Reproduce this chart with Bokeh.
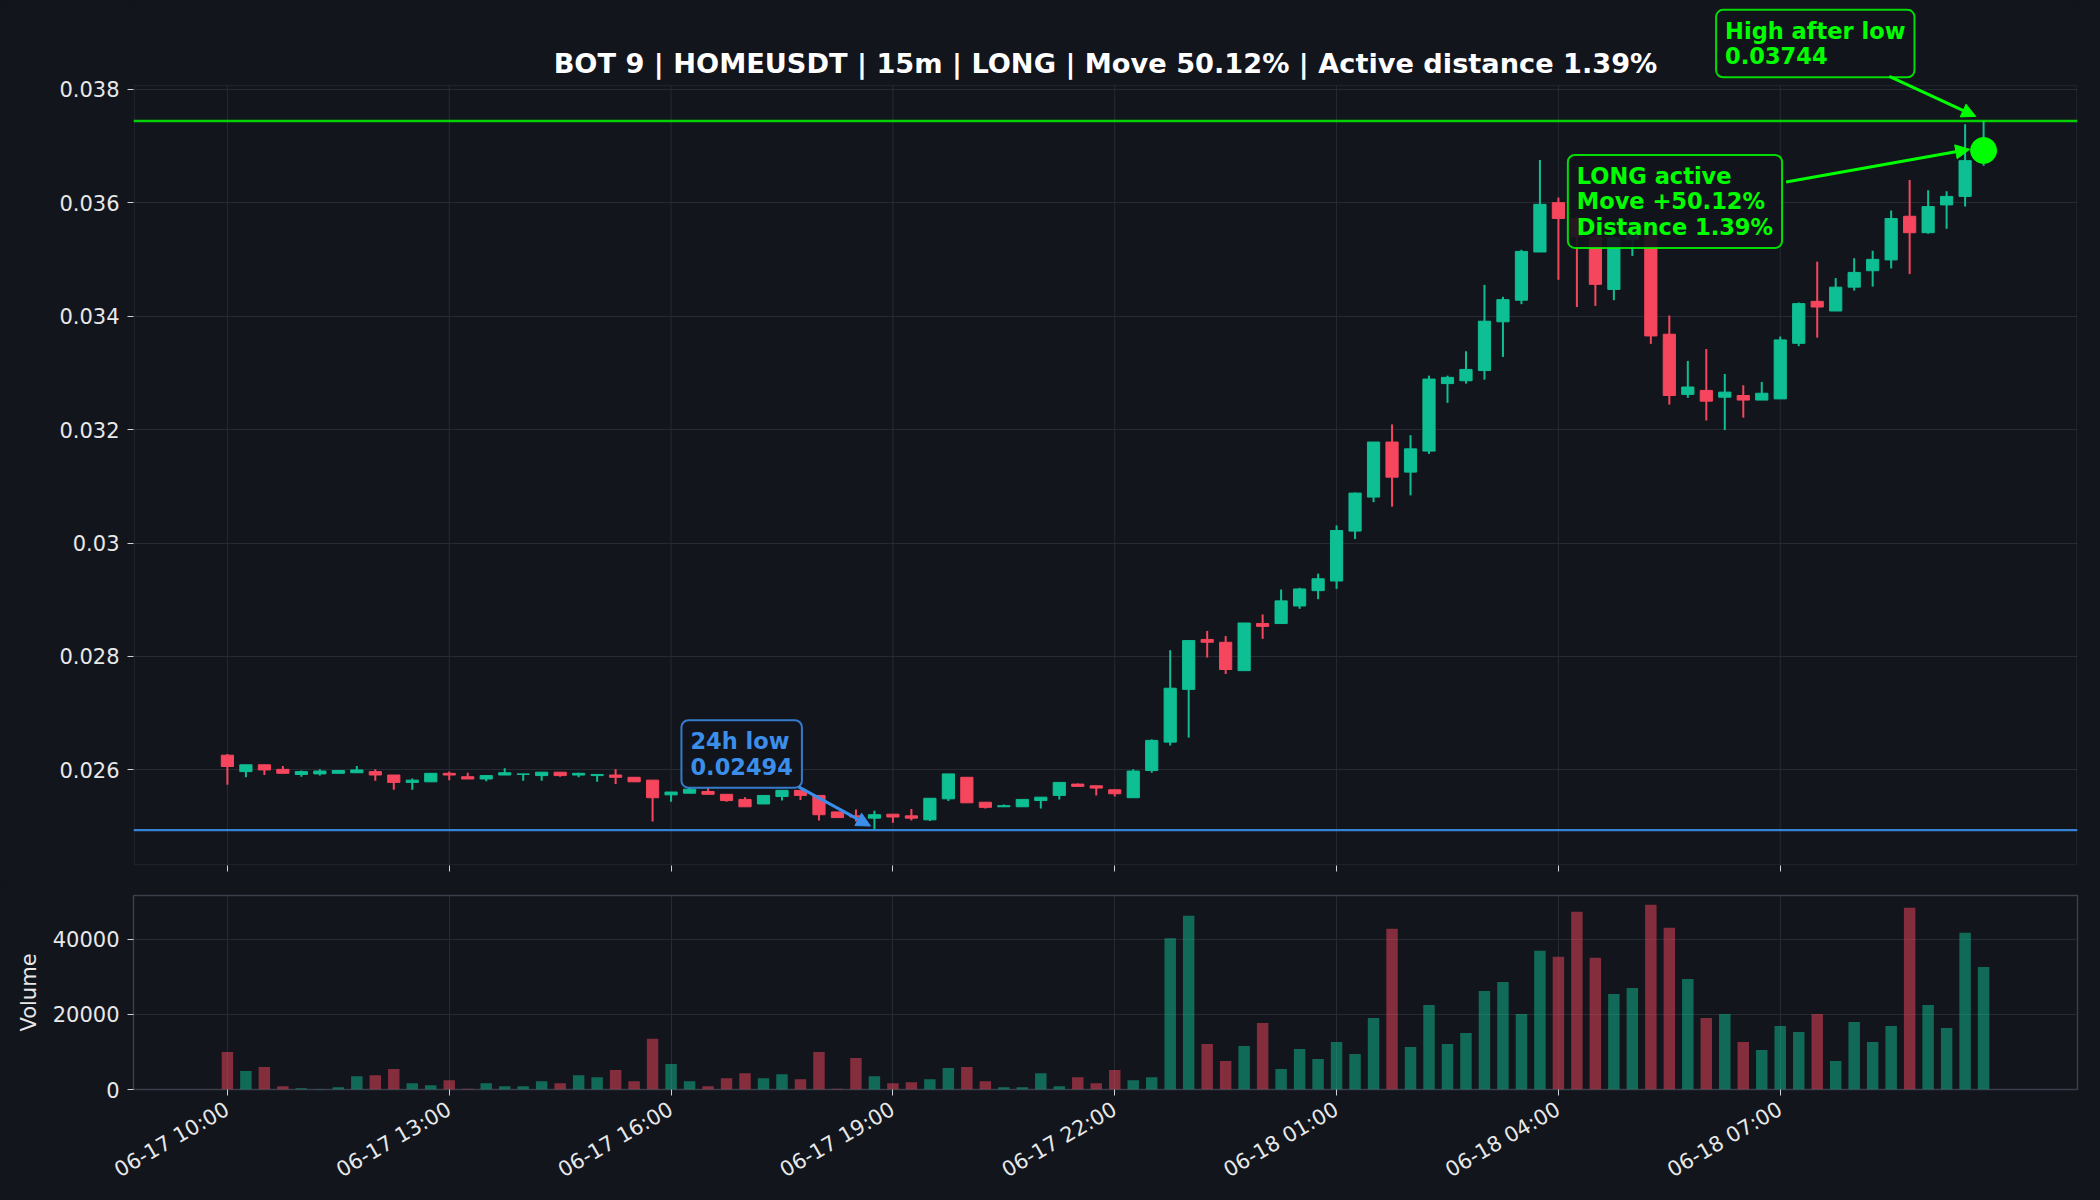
import numpy as np
import pandas as pd
from bokeh.plotting import figure
from bokeh.layouts import column
from bokeh.models import (Range1d, FixedTicker, DatetimeTickFormatter, CustomJSTickFormatter,
                          Span, Label, Arrow, NormalHead, ColumnDataSource, BoxAnnotation)
from bokeh.embed import file_html
from bokeh.resources import INLINE

# ---------------- data ----------------
start_time = "2025-06-17 10:00"
interval = "15min"

opens = [0.02626, 0.02597, 0.02609, 0.02601, 0.02592, 0.02593, 0.02594, 0.02595, 0.02597, 0.02591,
         0.02578, 0.02579, 0.02594, 0.02588, 0.02584, 0.02591, 0.02592, 0.02590, 0.02596, 0.02591,
         0.02590, 0.02591, 0.02587, 0.02582, 0.02556, 0.02559, 0.02562, 0.02557, 0.02548, 0.02540,
         0.02553, 0.02564, 0.02555, 0.02526, 0.02519, 0.02515, 0.02522, 0.02519, 0.02512, 0.02549,
         0.02587, 0.02543, 0.02535, 0.02535, 0.02546, 0.02555, 0.02575, 0.02572, 0.02565, 0.02551,
         0.02599, 0.02649, 0.02742, 0.02830, 0.02825, 0.02775, 0.02858, 0.02858, 0.02889, 0.02916,
         0.02933, 0.03021, 0.03081, 0.03178, 0.03125, 0.03162, 0.03281, 0.03286, 0.03304, 0.03390,
         0.03428, 0.03513, 0.03600, 0.03572, 0.03540, 0.03447, 0.03535, 0.03545, 0.03368, 0.03262,
         0.03269, 0.03257, 0.03260, 0.03252, 0.03254, 0.03352, 0.03426, 0.03409, 0.03451, 0.03480,
         0.03499, 0.03576, 0.03547, 0.03596, 0.03611, 0.03674]
highs = [0.02628, 0.02609, 0.02609, 0.02607, 0.02599, 0.02601, 0.02600, 0.02607, 0.02601, 0.02591,
         0.02585, 0.02594, 0.02597, 0.02595, 0.02591, 0.02603, 0.02593, 0.02596, 0.02596, 0.02595,
         0.02592, 0.02601, 0.02587, 0.02582, 0.02561, 0.02569, 0.02569, 0.02557, 0.02552, 0.02555,
         0.02564, 0.02564, 0.02555, 0.02526, 0.02530, 0.02528, 0.02522, 0.02531, 0.02550, 0.02593,
         0.02587, 0.02543, 0.02539, 0.02548, 0.02552, 0.02578, 0.02576, 0.02572, 0.02566, 0.02601,
         0.02654, 0.02811, 0.02829, 0.02845, 0.02836, 0.02859, 0.02874, 0.02918, 0.02921, 0.02946,
         0.03031, 0.03089, 0.03178, 0.03209, 0.03190, 0.03295, 0.03295, 0.03338, 0.03455, 0.03434,
         0.03517, 0.03675, 0.03609, 0.03575, 0.03545, 0.03540, 0.03562, 0.03550, 0.03401, 0.03321,
         0.03342, 0.03298, 0.03278, 0.03284, 0.03364, 0.03424, 0.03496, 0.03467, 0.03502, 0.03515,
         0.03586, 0.03640, 0.03622, 0.03620, 0.03738, 0.03744]
lows = [0.02574, 0.02587, 0.02591, 0.02594, 0.02588, 0.02590, 0.02594, 0.02595, 0.02581, 0.02565,
        0.02565, 0.02579, 0.02582, 0.02584, 0.02580, 0.02591, 0.02581, 0.02581, 0.02588, 0.02587,
        0.02579, 0.02575, 0.02579, 0.02509, 0.02544, 0.02559, 0.02557, 0.02544, 0.02535, 0.02540,
        0.02546, 0.02547, 0.02511, 0.02516, 0.02509, 0.02494, 0.02507, 0.02511, 0.02510, 0.02545,
        0.02542, 0.02532, 0.02535, 0.02535, 0.02532, 0.02548, 0.02571, 0.02555, 0.02553, 0.02551,
        0.02595, 0.02643, 0.02657, 0.02798, 0.02769, 0.02775, 0.02831, 0.02858, 0.02884, 0.02901,
        0.02919, 0.03007, 0.03072, 0.03064, 0.03084, 0.03157, 0.03247, 0.03281, 0.03288, 0.03328,
        0.03421, 0.03513, 0.03464, 0.03416, 0.03418, 0.03428, 0.03506, 0.03351, 0.03244, 0.03256,
        0.03216, 0.03199, 0.03221, 0.03252, 0.03254, 0.03347, 0.03362, 0.03409, 0.03445, 0.03452,
        0.03484, 0.03474, 0.03545, 0.03554, 0.03593, 0.03665]
closes = [0.02606, 0.02609, 0.02600, 0.02594, 0.02597, 0.02598, 0.02599, 0.02600, 0.02591, 0.02578,
          0.02582, 0.02594, 0.02591, 0.02584, 0.02590, 0.02595, 0.02593, 0.02596, 0.02590, 0.02594,
          0.02592, 0.02587, 0.02579, 0.02551, 0.02561, 0.02566, 0.02557, 0.02546, 0.02535, 0.02555,
          0.02564, 0.02555, 0.02521, 0.02516, 0.02517, 0.02521, 0.02517, 0.02515, 0.02550, 0.02593,
          0.02542, 0.02534, 0.02537, 0.02548, 0.02552, 0.02578, 0.02571, 0.02568, 0.02558, 0.02598,
          0.02652, 0.02744, 0.02828, 0.02825, 0.02777, 0.02859, 0.02853, 0.02898, 0.02919, 0.02937,
          0.03022, 0.03088, 0.03178, 0.03116, 0.03166, 0.03289, 0.03292, 0.03306, 0.03391, 0.03429,
          0.03514, 0.03597, 0.03572, 0.03540, 0.03456, 0.03538, 0.03555, 0.03365, 0.03260, 0.03275,
          0.03250, 0.03266, 0.03252, 0.03264, 0.03358, 0.03422, 0.03416, 0.03451, 0.03477, 0.03500,
          0.03572, 0.03547, 0.03593, 0.03611, 0.03674, 0.03692]
volumes = [9956, 4889, 5956, 889, 356, 150, 622, 3556, 3822, 5422,
           1689, 1156, 2489, 200, 1689, 889, 889, 2222, 1689, 3822,
           3289, 5156, 2222, 13511, 6756, 2222, 889, 3022, 4356, 3022,
           4089, 2756, 9956, 200, 8356, 3556, 1689, 1956, 2756, 5689,
           5956, 2222, 622, 622, 4356, 889, 3289, 1689, 5156, 2489,
           3289, 40267, 46222, 12089, 7556, 11556, 17689, 5422, 10756, 8089,
           12622, 9422, 19022, 42756, 11289, 22489, 12089, 15022, 26222, 28622,
           20089, 36889, 35289, 47289, 35022, 25422, 27022, 49156, 43022, 29422,
           19022, 20089, 12622, 10489, 16889, 15289, 20089, 7556, 17956, 12622,
           16889, 48356, 22489, 16356, 41689, 32622]

x_tick_times = ["2025-06-17 10:00", "2025-06-17 13:00", "2025-06-17 16:00", "2025-06-17 19:00",
                "2025-06-17 22:00", "2025-06-18 01:00", "2025-06-18 04:00", "2025-06-18 07:00"]
price_ticks = [0.026, 0.028, 0.030, 0.032, 0.034, 0.036, 0.038]
volume_ticks = [0, 20000, 40000]

title_text = "BOT 9 | HOMEUSDT | 15m | LONG | Move 50.12% | Active distance 1.39%"
low_value = 0.02494
high_value = 0.03744
move_pct = 50.12
dist_pct = 1.39

# ---------------- styling ----------------
BG = "#12151c"
GRID = "#2a2f39"
FRAME = "#3a3f4a"
TXT = "#e8e8e8"
UP = "#0fbf94"
DOWN = "#f6465d"
LIME = "#00ff00"
BLUE = "#3b8eea"
FONT = "DejaVu Sans"

o = np.array(opens); h = np.array(highs); l = np.array(lows); c = np.array(closes)
v = np.array(volumes, dtype=float)
times = pd.date_range(start_time, periods=len(o), freq=interval)
t_ms = (times.astype("int64") // 10**6).to_numpy().astype(float)
step = 15 * 60 * 1000.0
t0 = t_ms[0]


def n2ms(n):
    return t0 + n * step


colors = [UP if cc >= oo else DOWN for oo, cc in zip(o, c)]
src = ColumnDataSource(dict(t=t_ms, top=np.maximum(o, c), bottom=np.minimum(o, c),
                            high=h, low=l, color=colors, vol=v))

span_lo = min(l.min(), low_value)
span_hi = max(h.max(), high_value)
pad = 0.05 * (span_hi - span_lo)
y_lo, y_hi = span_lo - pad, span_hi + pad          # visible price frame
n_lo, n_hi = -5.08, len(o) - 1 + 5.08
x_range = Range1d(n2ms(n_lo), n2ms(n_hi))
xt = [pd.Timestamp(s).value // 10**6 for s in x_tick_times]

W = 2100
LEFT, RIGHT = 133, 23
FRAME_W = W - LEFT - RIGHT
TOP_SPACE = 85          # px above the price frame (title, high label)
FRAME_H = 780
px_per_price = FRAME_H / (y_hi - y_lo)
px_per_step = FRAME_W / (n_hi - n_lo)
y_top = y_hi + TOP_SPACE / px_per_price


def style(p):
    p.background_fill_color = BG
    p.border_fill_color = BG
    p.styles = {"background-color": BG}
    p.grid.grid_line_color = GRID
    p.grid.grid_line_alpha = 0.8
    p.grid.grid_line_width = 1
    p.axis.axis_line_color = None
    p.axis.major_tick_line_color = "#cfd3da"
    p.axis.major_tick_out = 6
    p.axis.major_tick_in = 0
    p.axis.minor_tick_line_color = None
    p.axis.major_label_text_color = TXT
    p.axis.major_label_text_font = FONT
    p.axis.major_label_text_font_size = "21px"
    p.axis.major_label_standoff = 8
    p.xaxis.ticker = FixedTicker(ticks=xt)
    p.xgrid.ticker = FixedTicker(ticks=xt)


# ---------------- price panel ----------------
p1 = figure(width=W, height=TOP_SPACE + FRAME_H + 15, x_axis_type="datetime", x_range=x_range,
            y_range=Range1d(y_lo, y_top),
            output_backend="svg", toolbar_location=None,
            min_border_left=LEFT, min_border_right=RIGHT, min_border_top=0, min_border_bottom=15)
style(p1)
p1.title.visible = False
p1.outline_line_color = None
p1.xaxis.formatter = CustomJSTickFormatter(code="return '';")
p1.xaxis.major_label_standoff = 0
p1.xgrid.visible = False
p1.yaxis.ticker = FixedTicker(ticks=price_ticks)
p1.yaxis.formatter = CustomJSTickFormatter(code="return tick.toFixed(3).replace(/0+$/, '');")

# vertical grid lines only inside the visible price frame
p1.segment(x0=xt, y0=[y_lo] * len(xt), x1=xt, y1=[y_hi] * len(xt),
           line_color=GRID, line_alpha=0.8, line_width=1)

# frame border
ix = 0.75 / px_per_step * step
iy = 0.75 / px_per_price
p1.add_layout(BoxAnnotation(left=n2ms(n_lo) + ix, right=n2ms(n_hi) - ix, bottom=y_lo + iy, top=y_hi,
                            fill_alpha=0, line_color=FRAME, line_width=1.5, level="underlay"))

# title
p1.add_layout(Label(x=n2ms((n_lo + n_hi) / 2), y=y_hi + 22 / px_per_price, text=title_text,
                    text_align="center", text_baseline="middle", text_font=FONT,
                    text_font_size="27.2px", text_font_style="bold", text_color="#ffffff"))

p1.segment(x0="t", y0="high", x1="t", y1="low", line_color="color", line_width=2, source=src)
p1.vbar(x="t", width=0.66 * step, top="top", bottom="bottom", fill_color="color",
        line_color="color", line_width=1, source=src)

p1.add_layout(Span(location=high_value, dimension="width", line_color=LIME, line_alpha=0.8, line_width=2.5))
p1.add_layout(Span(location=low_value, dimension="width", line_color=BLUE, line_alpha=0.9, line_width=2.2))

low_idx = int(np.argmin(l))
high_idx = low_idx + int(np.argmax(h[low_idx:]))
last_idx = len(o) - 1

p1.scatter(x=[t_ms[last_idx]], y=[c[last_idx]], size=26, fill_color=LIME, line_color=LIME)


def box_label(x, y, text, color):
    return Label(x=x, y=y, text=text, anchor="top_left", text_font=FONT, text_font_size="22.5px",
                 text_font_style="bold", text_color=color, text_line_height=0.98,
                 background_fill_color=BG, background_fill_alpha=0.92,
                 border_line_color=color, border_line_width=2, border_line_alpha=0.85,
                 border_radius=7, padding=dict(left=9, right=9, top=8, bottom=8))


def arrow(x0, y0, x1, y1, color):
    return Arrow(end=NormalHead(size=14, fill_color=color, line_color=color),
                 x_start=x0, y_start=y0, x_end=x1, y_end=y1, line_color=color, line_width=3)


# 24h low annotation
p1.add_layout(box_label(n2ms(low_idx - 10.44), low_value + 0.001937,
                        f"24h low\n{low_value:.5f}", BLUE))
p1.add_layout(arrow(n2ms(low_idx - 4.10), low_value + 0.00076,
                    n2ms(low_idx - 0.21), low_value + 0.00007, BLUE))

# high-after-low annotation
p1.add_layout(box_label(n2ms(high_idx - 14.47), high_value + 0.001959,
                        f"High after low\n{high_value:.5f}", LIME))
p1.add_layout(arrow(n2ms(high_idx - 5.10), high_value + 0.000784,
                    n2ms(high_idx - 0.42), high_value + 0.00008, LIME))

# active signal annotation
p1.add_layout(box_label(n2ms(last_idx - 22.49), c[last_idx] - 0.00008,
                        f"LONG active\nMove +{move_pct:.2f}%\nDistance {dist_pct:.2f}%", LIME))
p1.add_layout(arrow(n2ms(last_idx - 10.68), c[last_idx] - 0.000555,
                    n2ms(last_idx - 0.75), c[last_idx] + 0.00002, LIME))

# ---------------- volume panel ----------------
p2 = figure(width=W, height=1200 - (TOP_SPACE + FRAME_H + 15), x_axis_type="datetime", x_range=x_range,
            y_range=Range1d(0, v.max() * 1.05),
            output_backend="svg", toolbar_location=None,
            min_border_left=LEFT, min_border_right=RIGHT, min_border_top=15, min_border_bottom=111)
style(p2)
p2.outline_line_color = FRAME
p2.outline_line_width = 1.5
p2.yaxis.ticker = FixedTicker(ticks=volume_ticks)
p2.yaxis.formatter = CustomJSTickFormatter(code="return tick.toFixed(0);")
p2.yaxis.axis_label = "Volume"
p2.yaxis.axis_label_text_font = FONT
p2.yaxis.axis_label_text_font_size = "21px"
p2.yaxis.axis_label_text_font_style = "normal"
p2.yaxis.axis_label_text_color = TXT
p2.yaxis.axis_label_standoff = 9
fmt = "%m-%d %H:%M"
p2.xaxis.formatter = DatetimeTickFormatter(minutes=fmt, hourmin=fmt, hours=fmt, days=fmt)
p2.xaxis.major_label_orientation = 30 * np.pi / 180
p2.xaxis.major_label_standoff = 12

p2.vbar(x="t", width=0.62 * step, top="vol", bottom=0, fill_color="color", fill_alpha=0.5,
        line_color=None, source=src)

layout = column(p1, p2, styles={"background-color": BG})
open("out.html", "w").write(file_html(layout, INLINE))
